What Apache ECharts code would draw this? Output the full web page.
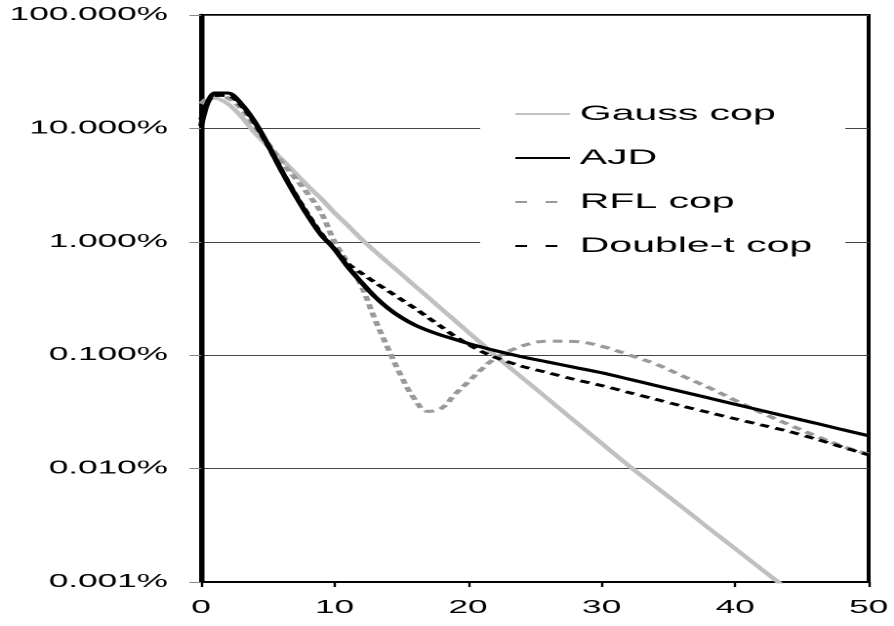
<!DOCTYPE html>
<html>
<head>
<meta charset="utf-8">
<script src="https://cdn.jsdelivr.net/npm/echarts@6/dist/echarts.min.js"></script>
<style>
html,body{margin:0;padding:0;background:#fff;overflow:hidden;width:894px;height:626px;}
#wrap{width:894px;height:626px;overflow:hidden;}
#chart{width:458px;height:626px;transform:scaleX(1.952);transform-origin:0 0;}
</style>
</head>
<body>
<div id="wrap"><div id="chart"></div></div>
<script>
// x positions (shared by all series)
const xVals = [0,1,2,3,4,5,6,7,8,9,10,11,12,13,14,15,16,17,18,19,20,21,22,24,26,28,30,32,34,36,38,40,42,44,46,48,50];
// values in percent
const gaussCop = [16.5,18.5,16.5,12.8,9.2,7.0,5.4,4.1,3.1,2.4,1.8,1.39,1.06,0.83,0.655,0.52,0.41,0.325,0.256,0.203,0.16,0.127,0.1,0.064,0.041,0.0261,0.0167,0.0107,0.0070,0.0046,0.0030,0.00197,0.00129,0.00085,null,null,null];
const ajd = [10.5,20.5,20.5,16.5,11.5,7.2,4.3,2.65,1.7,1.15,0.86,0.6,0.44,0.33,0.26,0.215,0.185,0.165,0.15,0.138,0.127,0.118,0.11,0.097,0.087,0.078,0.070,0.0617,0.0542,0.0477,0.042,0.0369,0.0325,0.0286,0.0252,0.0221,0.0195];
const rflCop = [16.5,19.5,18.5,15,10.5,7.4,5.1,3.7,2.65,1.8,1.0,0.65,0.41,0.21,0.115,0.065,0.041,0.032,0.034,0.045,0.058,0.075,0.093,0.12,0.133,0.132,0.12,0.101,0.084,0.066,0.052,0.040,0.031,0.0245,0.0195,0.0158,0.0134];
const doubleTCop = [12,19.5,19.5,16,11.2,7.1,4.3,2.7,1.75,1.18,0.87,0.64,0.53,0.44,0.37,0.31,0.26,0.215,0.178,0.147,0.125,0.108,0.096,0.080,0.070,0.061,0.054,0.047,0.041,0.0357,0.0313,0.0275,0.0242,0.0213,0.0183,0.0155,0.0132];
const seriesNames = ['Gauss cop','AJD','RFL cop','Double-t cop'];
const xTicks = [0,10,20,30,40,50];
const yTicks = [0.001,0.01,0.1,1,10,100];

function pairs(ys){ return xVals.map((x,i)=> ys[i]==null ? null : [x, ys[i]]).filter(p=>p); }

const chart = echarts.init(document.getElementById('chart'), null, {renderer:'canvas', devicePixelRatio:2});
const font = '"Liberation Sans", Arial, sans-serif';
chart.setOption({
  animation:false,
  backgroundColor:'#fff',
  grid:{left:103, right:10.3, top:15, bottom:44, show:true, borderColor:'#000', borderWidth:2, backgroundColor:'transparent'},
  legend:{
    type:'plain', show:true,
    orient:'vertical', left:246, top:88,
    backgroundColor:'#fff',
    padding:[14,17,17,17],
    itemWidth:28, itemHeight:14, itemGap:20,
    itemStyle:{opacity:0, borderWidth:0},
    textStyle:{fontFamily:font, fontSize:21, color:'#000', lineHeight:24},
    data:[
      {name:seriesNames[0]},
      {name:seriesNames[1]},
      {name:seriesNames[2], lineStyle:{type:[6,9.5]}},
      {name:seriesNames[3], lineStyle:{type:[6,9.5]}}
    ]
  },
  xAxis:{
    type:'value', min:xTicks[0], max:xTicks[xTicks.length-1], interval:10,
    axisLine:{show:true, onZero:false, lineStyle:{color:'#000', width:2}},
    axisTick:{show:true, inside:false, length:5, lineStyle:{color:'#000', width:1.2}},
    axisLabel:{margin:17, fontFamily:font, fontSize:18, color:'#000'},
    splitLine:{show:false}
  },
  yAxis:{
    type:'log', logBase:10, min:yTicks[0], max:yTicks[yTicks.length-1],
    axisLine:{show:true, lineStyle:{color:'#000', width:2.5}},
    axisTick:{show:true, inside:false, length:6, lineStyle:{color:'#888', width:1}},
    axisLabel:{margin:17, fontFamily:font, fontSize:18, color:'#000',
      formatter:v=>Number(v).toFixed(3)+'%'},
    splitLine:{show:true, lineStyle:{color:'#444', width:1}}
  },
  series:[
    {name:seriesNames[0], type:'line', data:pairs(gaussCop), showSymbol:false, symbol:'none', smooth:0.3,
     lineStyle:{color:'#c0c0c0', width:3}, itemStyle:{color:'#c0c0c0'}, z:2},
    {name:seriesNames[1], type:'line', data:pairs(ajd), showSymbol:false, symbol:'none', smooth:0.3,
     lineStyle:{color:'#000', width:3}, itemStyle:{color:'#000'}, z:4},
    {name:seriesNames[2], type:'line', data:pairs(rflCop), showSymbol:false, symbol:'none', smooth:0.4,
     lineStyle:{color:'#9a9a9a', width:3, type:[5,3.5]}, itemStyle:{color:'#9a9a9a'}, z:3},
    {name:seriesNames[3], type:'line', data:pairs(doubleTCop), showSymbol:false, symbol:'none', smooth:0.3,
     lineStyle:{color:'#000', width:2.8, type:[5,3.5]}, itemStyle:{color:'#000'}, z:5}
  ]
});
</script>
</body>
</html>
